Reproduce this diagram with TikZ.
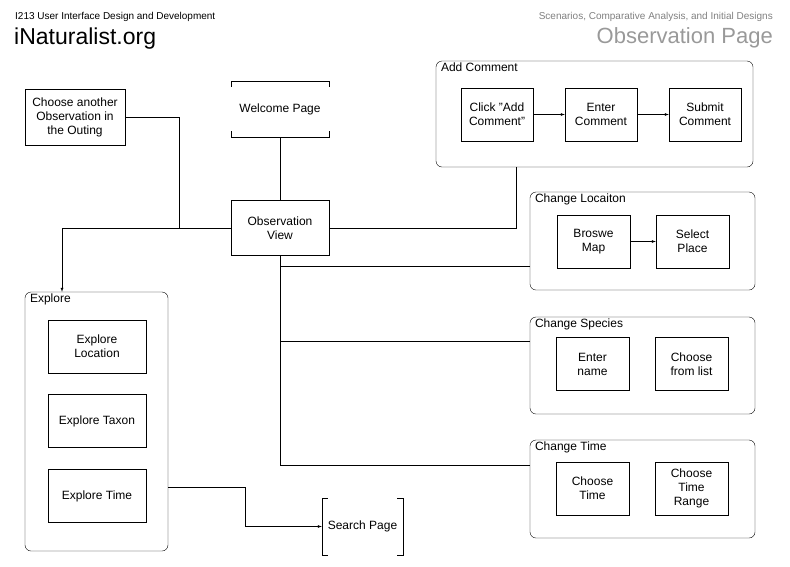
\documentclass[tikz,border=0pt]{standalone}
\usepackage{fontspec}
\setmainfont{Liberation Sans}
\begin{document}
\begin{tikzpicture}[x=1pt,y=-1pt]
   \tikzstyle{every node}=[font=\fontsize{12}{14}\selectfont]
   \tikzstyle{box}=[draw, align=center, minimum width=73pt, minimum height=53pt, inner sep=1pt]
   \tikzstyle{group}=[draw, rounded corners=6pt, inner sep=0pt]
   \tikzstyle{title}=[anchor=north west, inner sep=0pt]
   \tikzstyle{arr}=[-latex]
   \useasboundingbox (0,0) rectangle (790,566);

% header
\node[anchor=west, inner sep=0pt, font=\fontsize{10}{12}\selectfont] (course) at (15,17) {I213 User Interface Design and Development};
\node[anchor=west, inner sep=0pt, font=\fontsize{23}{26}\selectfont] (site) at (14,39) {iNaturalist.org};
\node[anchor=east, inner sep=0pt, text=gray, font=\fontsize{10}{12}\selectfont] (subject) at (773,17) {Scenarios, Comparative Analysis, and Initial Designs};
\node[anchor=east, inner sep=0pt, text=gray!80, font=\fontsize{22}{26}\selectfont] (page) at (773,38) {Observation Page};

% main column
\node[box, minimum width=100pt, minimum height=56pt] (another) at (75,117) {Choose another\\Observation in\\the Outing};
\node[minimum width=98pt, minimum height=56pt] (welcome) at (280,109) {Welcome Page};
\draw (welcome.south west) ++(0,-6) -- (welcome.south west) -- (welcome.south east) -- ++(0,-6);
\draw (welcome.north west) ++(0,6) -- (welcome.north west) -- (welcome.north east) -- ++(0,6);
\node[box, minimum width=98pt, minimum height=55pt] (obs) at (280,228) {Observation\\View};

% add comment
\node[group, minimum width=317pt, minimum height=106pt] (addgrp) at (594.5,114) {};
\node[title] at ([shift={(5,2)}]addgrp.north west) {Add Comment};
\node[box, minimum width=72pt] (click) at (497,114.5) {Click {\char34}Add\\Comment{\char34}};
\node[box, minimum width=72pt] (enter) at (601,114.5) {Enter\\Comment};
\node[box, minimum width=72pt] (submit) at (705,114.5) {Submit\\Comment};
\draw[arr] (click) -- (enter);
\draw[arr] (enter) -- (submit);

% change location
\node[group, minimum width=225pt, minimum height=98pt] (locgrp) at (642.5,241) {};
\node[title] at ([shift={(5,2)}]locgrp.north west) {Change Locaiton};
\node[box] (browse) at (593.5,241.5) {Broswe\\Map};
\node[box] (place) at (692.5,241.5) {Select\\Place};
\draw[arr] (browse) -- (place);

% change species
\node[group, minimum width=225pt, minimum height=97pt] (spcgrp) at (642.5,365.5) {};
\node[title] at ([shift={(5,2)}]spcgrp.north west) {Change Species};
\node[box] (name) at (592.5,364) {Enter\\name};
\node[box] (list) at (691.5,364) {Choose\\from list};

% change time
\node[group, minimum width=225pt, minimum height=98pt] (timegrp) at (642.5,489) {};
\node[title] at ([shift={(5,2)}]timegrp.north west) {Change Time};
\node[box] (ctime) at (592.5,488.5) {Choose\\Time};
\node[box] (crange) at (691.5,488.5) {Choose\\Time\\Range};

% explore
\node[group, minimum width=143pt, minimum height=259pt] (expgrp) at (96.5,421.5) {};
\node[title] at ([shift={(5,2)}]expgrp.north west) {Explore};
\node[box, minimum width=98pt] (exloc) at (97,346.5) {Explore\\Location};
\node[box, minimum width=98pt] (extax) at (97,421) {Explore Taxon};
\node[box, minimum width=98pt] (extime) at (97,496) {Explore Time};

\node[minimum width=81pt, minimum height=57pt] (search) at (362.5,526.5) {Search Page};
\draw (search.north west) ++(6,0) -- (search.north west) -- (search.south west) -- ++(6,0);
\draw (search.north east) ++(-6,0) -- (search.north east) -- (search.south east) -- ++(-6,0);

% connectors
\draw (another.east) -- (179,117) -- (179,228);
\draw[arr] (obs.west) -| (expgrp.north -| 62,0);
\draw (welcome.south) -- (obs.north);
\draw (obs.east) -| (addgrp.south -| 516,0);
\draw (obs.south) -- (280,465) -- (timegrp.west |- 0,465);
\draw (280,266) -- (locgrp.west |- 0,266);
\draw (280,341) -- (spcgrp.west |- 0,341);
\draw[arr] (expgrp.east |- 0,487) -- (245,487) |- (search.west);

\end{tikzpicture}
\end{document}
